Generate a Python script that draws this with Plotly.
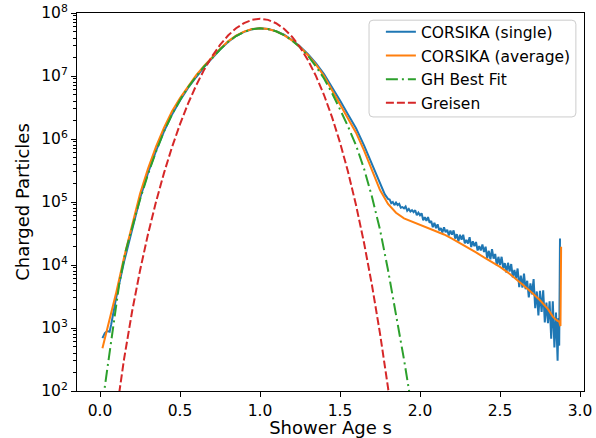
import numpy as np
import plotly.graph_objects as go

# ---- data (log10 of charged particle number) ----
single_s = [0.015, 0.03, 0.045, 0.06, 0.07, 0.1, 0.15, 0.2, 0.25, 0.3, 0.35, 0.4, 0.45, 0.5,
            0.55, 0.6, 0.65, 0.7, 0.75, 0.8, 0.85, 0.9, 0.95, 1.0, 1.05, 1.1, 1.15, 1.2, 1.25,
            1.3, 1.35, 1.4, 1.45, 1.5, 1.55, 1.6, 1.65, 1.7, 1.75, 1.78, 1.8,
            1.81, 1.82, 1.83, 1.84, 1.85, 1.86, 1.87, 1.88, 1.89, 1.90,
            1.91, 1.92, 1.93, 1.94, 1.95, 1.96, 1.97, 1.98, 1.99, 2.00,
            2.01, 2.02, 2.03, 2.04, 2.05, 2.06, 2.07, 2.08, 2.09, 2.10,
            2.11, 2.12, 2.13, 2.14, 2.15, 2.16, 2.17, 2.18, 2.19, 2.20,
            2.21, 2.22, 2.23, 2.24, 2.25, 2.26, 2.27, 2.28, 2.29, 2.30,
            2.31, 2.32, 2.33, 2.34, 2.35, 2.36, 2.37, 2.38, 2.39, 2.40,
            2.41, 2.42, 2.43, 2.44, 2.45, 2.46, 2.47, 2.48, 2.49, 2.50,
            2.51, 2.52, 2.53, 2.54, 2.55, 2.56, 2.57, 2.58, 2.59, 2.60,
            2.61, 2.62, 2.63, 2.64, 2.65, 2.66, 2.67, 2.68, 2.69, 2.70,
            2.71, 2.72, 2.73, 2.74, 2.75, 2.76, 2.77, 2.78, 2.79, 2.80,
            2.81, 2.82, 2.83, 2.84, 2.85, 2.86, 2.865, 2.87, 2.875]
single_log10 = [2.84, 2.92, 2.95, 2.94, 3.06, 3.47, 4.05, 4.58, 5.06, 5.46, 5.81, 6.12, 6.39, 6.61,
                6.81, 6.98, 7.14, 7.28, 7.42, 7.54, 7.635, 7.70, 7.743, 7.757, 7.747, 7.713, 7.655,
                7.572, 7.47, 7.345, 7.2, 7.03, 6.83, 6.61, 6.39, 6.17, 5.9, 5.6, 5.3, 5.12, 5.05,
                5.04, 4.98, 5.00, 4.95, 4.99, 4.95, 4.97, 4.91, 4.92, 4.90,
                4.93, 4.86, 4.89, 4.85, 4.87, 4.84, 4.87, 4.79, 4.83, 4.79,
                4.82, 4.71, 4.76, 4.70, 4.76, 4.67, 4.70, 4.60, 4.67, 4.585,
                4.645, 4.55, 4.585, 4.515, 4.60, 4.52, 4.56, 4.47, 4.545, 4.48,
                4.55, 4.42, 4.49, 4.375, 4.48, 4.40, 4.48, 4.345, 4.40, 4.34,
                4.44, 4.285, 4.375, 4.30, 4.365, 4.23, 4.30, 4.23, 4.325, 4.205,
                4.29, 4.105, 4.225, 4.09, 4.25, 4.10, 4.175, 3.995, 4.13, 4.00,
                4.13, 3.95, 4.03, 3.88, 4.035, 3.895, 4.015, 3.805, 3.92, 3.79,
                3.945, 3.65, 3.83, 3.64, 3.865, 3.615, 3.75, 3.485, 3.71, 3.535,
                3.775, 3.315, 3.58, 3.20, 3.59, 3.255, 3.60, 3.09, 3.405, 3.075,
                3.425, 2.83, 3.425, 2.69, 3.245, 2.48, 3.16, 2.72, 4.42]

average_s = [0.015, 0.05, 0.1, 0.15, 0.2, 0.25, 0.3, 0.35, 0.4, 0.45, 0.5, 0.55, 0.6, 0.65, 0.7,
             0.75, 0.8, 0.85, 0.9, 0.95, 1.0, 1.05, 1.1, 1.15, 1.2, 1.25, 1.3, 1.35, 1.4, 1.45,
             1.5, 1.55, 1.6, 1.65, 1.7, 1.75, 1.8, 1.85, 1.9, 1.95, 2.0, 2.05, 2.1, 2.15, 2.2,
             2.25, 2.3, 2.35, 2.4, 2.45, 2.5, 2.55, 2.6, 2.65, 2.7, 2.75, 2.8, 2.83, 2.855,
             2.87, 2.878, 2.882]
average_log10 = [2.68, 3.03, 3.55, 4.12, 4.65, 5.13, 5.53, 5.88, 6.18, 6.44, 6.65, 6.84, 7.01,
                 7.16, 7.30, 7.43, 7.55, 7.64, 7.705, 7.745, 7.757, 7.745, 7.71, 7.65, 7.565,
                 7.46, 7.33, 7.18, 7.0, 6.78, 6.55, 6.32, 6.1, 5.82, 5.5, 5.19, 4.97, 4.83, 4.74,
                 4.69, 4.64, 4.59, 4.54, 4.485, 4.42, 4.35, 4.28, 4.2, 4.12, 4.05, 3.97, 3.88,
                 3.78, 3.67, 3.56, 3.44, 3.3, 3.18, 3.12, 3.10, 3.03, 4.29]

gh_s = [0.015, 0.027, 0.05, 0.07, 0.09, 0.12, 0.16, 0.2, 0.25, 0.3, 0.35, 0.4, 0.45, 0.5, 0.55,
        0.6, 0.65, 0.7, 0.75, 0.8, 0.85, 0.9, 0.95, 1.0, 1.05, 1.1, 1.15, 1.2, 1.25, 1.3, 1.35,
        1.4, 1.45, 1.5, 1.55, 1.6, 1.65, 1.7, 1.75, 1.8, 1.85, 1.9, 1.95]
gh_log10 = [1.8, 2.02, 2.43, 2.83, 3.2, 3.7, 4.22, 4.6, 5.04, 5.44, 5.8, 6.12, 6.39, 6.62, 6.82,
            6.99, 7.15, 7.28, 7.42, 7.54, 7.635, 7.70, 7.743, 7.757, 7.745, 7.71, 7.65, 7.565,
            7.455, 7.32, 7.15, 6.96, 6.73, 6.47, 6.2, 5.9, 5.53, 5.08, 4.56, 3.92, 3.22, 2.5,
            1.72]

greisen_s = [0.10, 0.15, 0.20, 0.25, 0.30, 0.35, 0.40, 0.45, 0.50, 0.55, 0.60, 0.65, 0.70, 0.75,
             0.80, 0.85, 0.90, 0.95, 1.00, 1.05, 1.10, 1.15, 1.20, 1.25, 1.30, 1.35, 1.40, 1.45,
             1.50, 1.55, 1.60, 1.65, 1.70, 1.75, 1.80, 1.85]
greisen_log10 = [1.62, 2.505, 3.258, 3.913, 4.491, 5.004, 5.462, 5.872, 6.236, 6.561, 6.847,
                 7.097, 7.312, 7.493, 7.642, 7.758, 7.840, 7.891, 7.908, 7.891, 7.838, 7.750,
                 7.624, 7.458, 7.250, 6.998, 6.698, 6.348, 5.943, 5.480, 4.951, 4.352, 3.675,
                 2.912, 2.053, 1.086]

y_tick_exps = [2, 3, 4, 5, 6, 7, 8]
x_ticks = [0.0, 0.5, 1.0, 1.5, 2.0, 2.5, 3.0]

FONT = "DejaVu Sans, Liberation Sans, sans-serif"
TICK_SIZE = 15.5
TITLE_SIZE = 18

fig = go.Figure()
fig.add_trace(go.Scatter(x=single_s, y=10 ** np.array(single_log10), mode="lines",
                         name="CORSIKA (single)", legendgroup="a",
                         line=dict(color="#1f77b4", width=2)))
fig.add_trace(go.Scatter(x=average_s, y=10 ** np.array(average_log10), mode="lines",
                         name="CORSIKA (average)", legendgroup="b",
                         line=dict(color="#ff7f0e", width=2)))
fig.add_trace(go.Scatter(x=gh_s, y=10 ** np.array(gh_log10), mode="lines",
                         name="GH Best Fit", legendgroup="c",
                         line=dict(color="#2ca02c", width=2, dash="12px,4px,2px,4px")))
fig.add_trace(go.Scatter(x=greisen_s, y=10 ** np.array(greisen_log10), mode="lines",
                         name="Greisen", legendgroup="d",
                         line=dict(color="#d62728", width=2, dash="8px,3px")))

minor_vals = [m * 10 ** e for e in range(2, 8) for m in range(2, 10)]

# legend frame (rounded box, matplotlib style) in paper coordinates
bx0, bx1, by0, by1 = 0.576, 0.984, 0.725, 0.981
rx, ry = 4 / 507, 4 / 378
frame_path = (f"M {bx0+rx},{by0} L {bx1-rx},{by0} Q {bx1},{by0} {bx1},{by0+ry} "
              f"L {bx1},{by1-ry} Q {bx1},{by1} {bx1-rx},{by1} "
              f"L {bx0+rx},{by1} Q {bx0},{by1} {bx0},{by1-ry} "
              f"L {bx0},{by0+ry} Q {bx0},{by0} {bx0+rx},{by0} Z")

fig.update_layout(
    width=596, height=438,
    margin=dict(l=77, r=12, t=13, b=47),
    paper_bgcolor="white", plot_bgcolor="white",
    font=dict(family=FONT, size=TICK_SIZE, color="black"),
    showlegend=True,
    legend=dict(x=0.984, y=0.994, xanchor="right", yanchor="top",
                bgcolor="rgba(0,0,0,0)", borderwidth=0,
                font=dict(size=TICK_SIZE), traceorder="grouped", tracegroupgap=0.5),
    shapes=[dict(type="path", path=frame_path, xref="paper", yref="paper",
                 line=dict(color="#cccccc", width=1), fillcolor="rgba(255,255,255,0.8)",
                 layer="above")],
)
fig.update_xaxes(
    range=[-0.144, 3.025], showgrid=False, zeroline=False, automargin=False,
    showline=True, linecolor="black", linewidth=1, mirror=True,
    ticks="outside", ticklen=5, tickwidth=1, tickcolor="black",
    tickvals=x_ticks, ticktext=[f"{v:.1f}" for v in x_ticks],
    tickfont=dict(size=TICK_SIZE),
    title=dict(text="Shower Age s", font=dict(size=TITLE_SIZE), standoff=7),
)
fig.update_yaxes(
    type="log", range=[2, 8], showgrid=False, zeroline=False, automargin=False,
    showline=True, linecolor="black", linewidth=1, mirror=True,
    ticks="outside", ticklen=5, tickwidth=1, tickcolor="black",
    tickvals=[10 ** e for e in y_tick_exps],
    ticktext=[f"10<sup>{e}</sup>" for e in y_tick_exps],
    tickfont=dict(size=TICK_SIZE),
    minor=dict(tickvals=minor_vals, ticks="outside", ticklen=3, tickcolor="black", tickwidth=0.8),
    title=dict(text="Charged Particles", font=dict(size=TITLE_SIZE), standoff=6),
)

fig.write_html("out.html", config={"displayModeBar": False},
               post_script="document.body.style.margin='0px';")
